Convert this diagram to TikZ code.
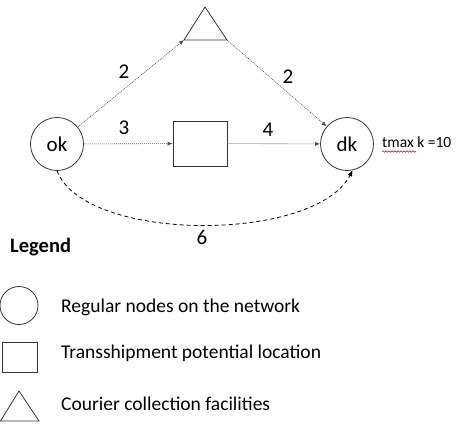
\documentclass[tikz,border=0pt]{standalone}
\usepackage{fontspec}
\setmainfont{Carlito}
\usetikzlibrary{arrows.meta,decorations.pathmorphing}
\begin{document}
\begin{tikzpicture}[x=1pt,y=-1pt,
  shapeline/.style={draw=black!80,line width=0.8pt},
  roundnode/.style={shapeline,circle,minimum size=53pt,inner sep=0pt,font=\fontsize{21}{24}\selectfont},
  boxnode/.style={shapeline,rectangle,minimum width=54pt,minimum height=45pt,inner sep=0pt},
  dotlink/.style={draw=black!70,line width=0.6pt,dash pattern=on 1pt off 1pt,-{Latex[length=5pt,width=4pt]}},
  dashlink/.style={draw=black,line width=0.8pt,dash pattern=on 4pt off 3pt,-{Latex[length=6pt,width=5pt]}},
  weight/.style={font=\fontsize{21}{24}\selectfont,inner sep=0pt},
  legendtext/.style={font=\fontsize{19.5}{22}\selectfont,anchor=west,inner sep=0pt}]
\useasboundingbox (0,0) rectangle (458,433);

% network nodes
\node[roundnode] (ok) at (57,144) {ok};
\node[roundnode] (dk) at (347,144) {dk};
\node[boxnode] (tp) at (200,143.5) {};
\draw[shapeline,line join=miter] (205,7) -- (227,40) -- (184,40) -- cycle;
\coordinate (triL) at (184,40);
\coordinate (triR) at (227,40);

% links
\draw[dotlink] (ok) -- (triL);
\draw[dotlink] (triR) -- (dk);
\draw[dotlink] (ok) -- (tp);
\draw[dotlink] (tp) -- (dk);
\draw[dashlink] (ok.south) .. controls (85,243) and (315,243) .. (dk.-78);

% link weights
\node[weight] (w1) at (124,72) {2};
\node[weight] (w2) at (288,77) {2};
\node[weight] (w3) at (124,128) {3};
\node[weight] (w4) at (268,130) {4};
\node[weight] (w6) at (202,237) {6};

% time limit at the destination
\node[font=\fontsize{15.5}{18}\selectfont,anchor=west,inner sep=0pt] (tmax) at (382,142) {tmax k =10};
\draw[red!80!black,line width=0.5pt,decorate,decoration={snake,amplitude=0.8pt,segment length=3pt}]
  (382,151.5) -- (416,151.5);

% legend
\node[font=\bfseries\fontsize{20.5}{24}\selectfont,anchor=west,inner sep=0pt] (lg) at (10,247) {Legend};
\draw[shapeline] (19,305.5) circle (19);
\draw[shapeline] (2,342) rectangle (37,372);
\draw[shapeline,line join=miter] (19,391) -- (39,421) -- (0.5,421) -- cycle;
\node[legendtext] (l1) at (61,307) {Regular nodes on the network};
\node[legendtext] (l2) at (61,353) {Transshipment potential location};
\node[legendtext] (l3) at (61,404) {Courier collection facilities};
\end{tikzpicture}
\end{document}
